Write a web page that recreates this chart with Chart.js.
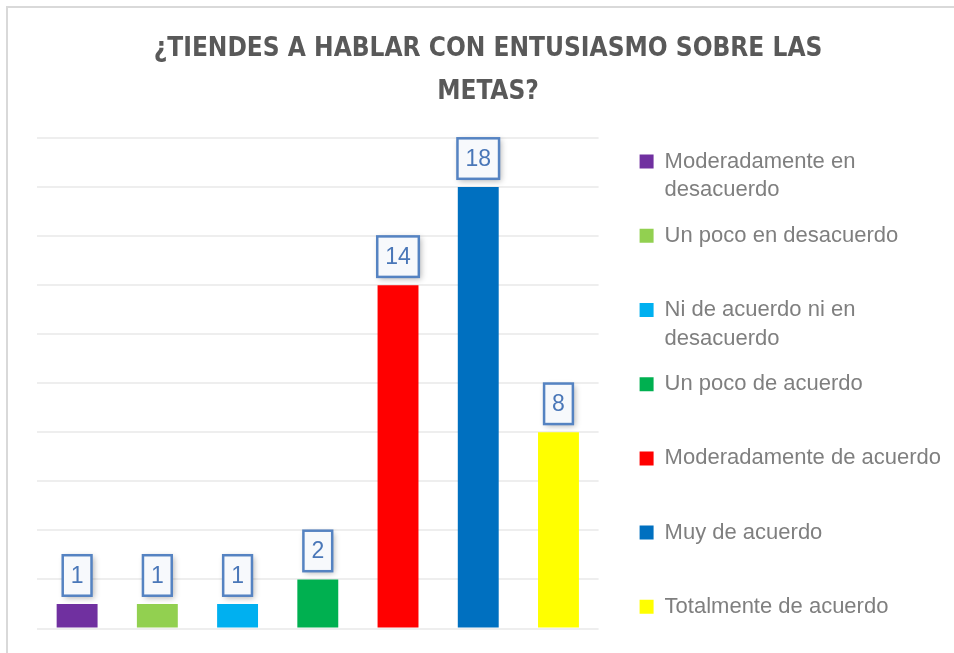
<!DOCTYPE html>
<html>
<head>
<meta charset="utf-8">
<script src="https://cdn.jsdelivr.net/npm/chart.js@4.4.1/dist/chart.umd.min.js"></script>
<style>
  html, body { margin: 0; padding: 0; background: #fff; overflow: hidden; }
  #marco { position: absolute; left: 6px; top: 6px; width: 1200px; height: 900px; border: 2px solid #d9d9d9; }
  #grafico { position: absolute; left: 0; top: 0; }
</style>
</head>
<body>
<div id="marco"></div>
<canvas id="grafico" width="976" height="670"></canvas>
<script>
// datos
var titulo = ['¿TIENDES A HABLAR CON ENTUSIASMO SOBRE LAS', 'METAS?'];
var categorias = [
  'Moderadamente en\ndesacuerdo',
  'Un poco en desacuerdo',
  'Ni de acuerdo ni en\ndesacuerdo',
  'Un poco de acuerdo',
  'Moderadamente de acuerdo',
  'Muy de acuerdo',
  'Totalmente de acuerdo'
];
var valores = [1, 1, 1, 2, 14, 18, 8];
var colores = ['#7030A0', '#92D050', '#00B0F0', '#00B050', '#FF0000', '#0070C0', '#FFFF00'];
var ejeMax = 20;
var ejePaso = 2;

var fuente = '"Liberation Sans", Arial, sans-serif';

// cajitas con el valor encima de cada barra
var etiquetasDatos = {
  id: 'etiquetasDatos',
  afterDatasetsDraw: function(chart) {
    var c = chart.ctx;
    var meta = chart.getDatasetMeta(0);
    c.save();
    c.font = '23px ' + fuente;
    c.textAlign = 'center';
    c.textBaseline = 'middle';
    meta.data.forEach(function(barra, i) {
      var texto = String(valores[i]);
      var ancho = c.measureText(texto).width + 16;
      var alto = 40.5;
      var x = barra.x - ancho / 2;
      var y = barra.y - 8.25 - alto;
      c.shadowColor = 'rgba(0,0,0,0.3)';
      c.shadowBlur = 6;
      c.shadowOffsetX = 2;
      c.shadowOffsetY = 2;
      c.fillStyle = '#f7f9fc';
      c.fillRect(x, y, ancho, alto);
      c.shadowColor = 'transparent';
      c.lineWidth = 2.5;
      c.strokeStyle = '#5583c2';
      c.strokeRect(x, y, ancho, alto);
      c.fillStyle = '#4a77b8';
      c.fillText(texto, barra.x, y + alto / 2 + 1);
    });
    c.restore();
  }
};

var ctx = document.getElementById('grafico').getContext('2d');
var myChart = new Chart(ctx, {
  type: 'bar',
  data: {
    labels: categorias,
    datasets: [{
      data: valores,
      backgroundColor: colores,
      borderWidth: 0,
      barPercentage: 0.51,
      categoryPercentage: 1
    }]
  },
  options: {
    responsive: false,
    animation: false,
    layout: { padding: { left: 25, right: 25, top: 0, bottom: 0 } },
    plugins: {
      title: {
        display: true,
        text: titulo,
        color: '#595959',
        font: { family: '"DejaVu Sans Condensed", "Liberation Sans", sans-serif', size: 26, weight: 'bold', lineHeight: 1.654 },
        padding: { top: 27.5, bottom: 24.5 }
      },
      legend: {
        position: 'right',
        align: 'end',
        maxWidth: 400,
        labels: {
          boxWidth: 14,
          boxHeight: 14,
          padding: 17,
          color: '#7f7f7f',
          font: { family: fuente, size: 22, lineHeight: 1.3 },
          generateLabels: function(chart) {
            return categorias.map(function(cat, i) {
              var lineas = cat.split('\n');
              if (lineas.length < 2) lineas.push('');
              return {
                text: lineas,
                fillStyle: colores[i],
                strokeStyle: colores[i],
                fontColor: '#7f7f7f',
                lineWidth: 0,
                hidden: false,
                index: i
              };
            });
          }
        }
      },
      tooltip: { enabled: false }
    },
    scales: {
      x: {
        ticks: { display: false },
        grid: { display: false },
        border: { display: false },
        afterFit: function(s) { s.height = 41.5; }
      },
      y: {
        min: 0,
        max: ejeMax,
        ticks: { display: false, stepSize: ejePaso },
        grid: { color: '#eeeeee', lineWidth: 2, drawTicks: false },
        border: { display: false },
        afterFit: function(s) { s.width = 12; }
      },
      yDer: {
        position: 'right',
        ticks: { display: false },
        grid: { display: false },
        border: { display: false },
        afterFit: function(s) { s.width = 24; }
      }
    }
  },
  plugins: [etiquetasDatos]
});
</script>
</body>
</html>
